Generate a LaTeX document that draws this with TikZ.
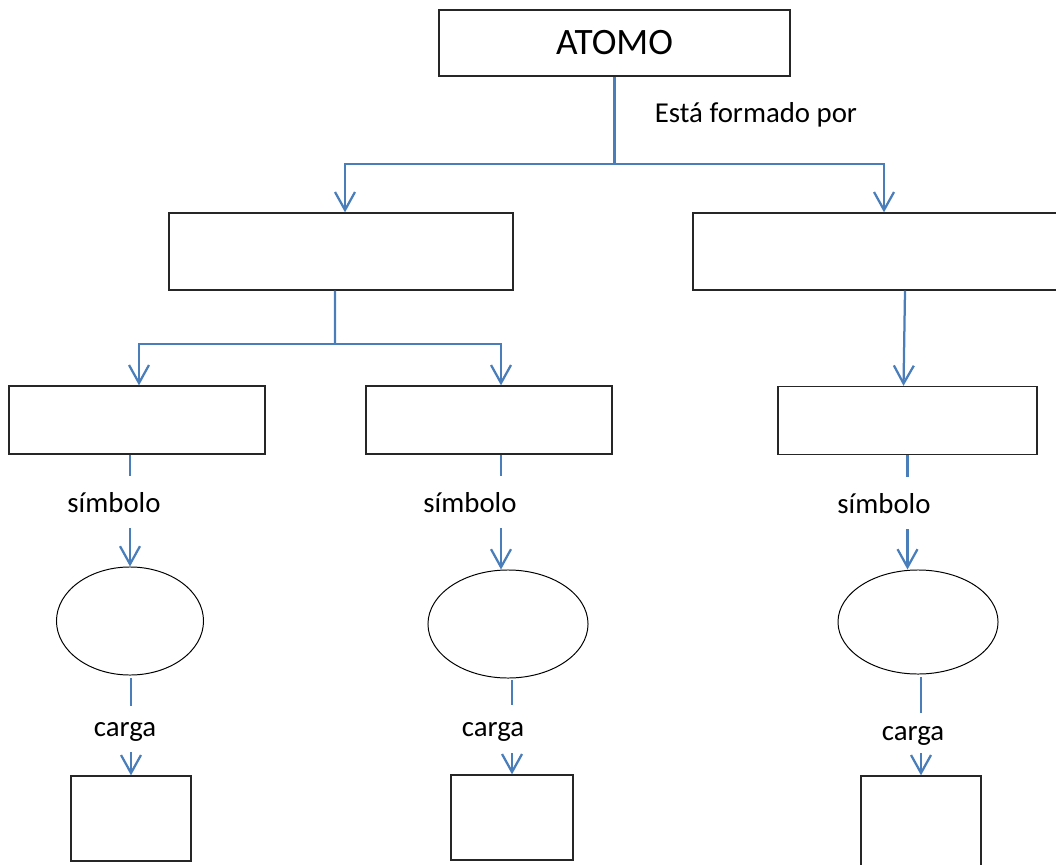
\documentclass[tikz,border=0pt]{standalone}
\usepackage{fontspec}
\setmainfont{Carlito}
\usetikzlibrary{arrows.meta,shapes.geometric}

\definecolor{linkblue}{HTML}{4A7EBB}

\begin{document}
\begin{tikzpicture}[x=0.025cm, y=-0.025cm,
            box/.style={draw=black!85, line width=0.9pt, inner sep=0pt},
            oval/.style={draw, ellipse, line width=0.7pt, inner sep=0pt},
            lbl/.style={inner sep=0pt, text depth=0pt, font=\fontsize{20.5}{24}\selectfont},
            link/.style={draw=linkblue, line width=1.6pt},
            tip/.style={-{Straight Barb[length=12.8pt, width=14.2pt]}}]
            \path[use as bounding box, clip] (0,0) rectangle (1056,865);

            \node (atomo) [box, minimum width=8.775cm, minimum height=1.65cm,
                           font=\fontsize{26.5}{30}\selectfont] at (614.5,43) {ATOMO};
            \node (formado) [lbl] at (756,112) {Está formado por};

            \node (partA) [box, minimum width=8.6cm,  minimum height=1.925cm] at (341,251.5) {};
            \node (partB) [box, minimum width=9.55cm, minimum height=1.925cm] at (884,251.5) {};

            \node (subA) [box, minimum width=6.4cm,   minimum height=1.7cm] at (137,420) {};
            \node (subB) [box, minimum width=6.15cm,  minimum height=1.7cm] at (489,420) {};
            \node (subC) [box, minimum width=6.475cm, minimum height=1.7cm] at (907.5,420.5) {};

            \node (symA) [lbl, minimum height=1.275cm] at (114,502) {símbolo};
            \node (symB) [lbl, minimum height=1.275cm] at (470,502) {símbolo};
            \node (symC) [lbl, minimum height=1.3cm]   at (884,503) {símbolo};

            \node (ellA) [oval, minimum width=3.675cm, minimum height=2.7cm] at (130,621) {};
            \node (ellB) [oval, minimum width=4cm,     minimum height=2.7cm] at (508,624) {};
            \node (ellC) [oval, minimum width=4cm,     minimum height=2.6cm] at (918,622) {};

            \node (chgA) [lbl, minimum height=1.15cm] at (125,729) {carga};
            \node (chgB) [lbl, minimum height=1.2cm]  at (493,729) {carga};
            \node (chgC) [lbl, minimum height=1cm]    at (913,733) {carga};

            \node (valA) [box, minimum width=3cm,    minimum height=2.125cm] at (131,818.5) {};
            \node (valB) [box, minimum width=3.05cm, minimum height=2.125cm] at (512,817.5) {};
            \node (valC) [box, minimum width=3cm,    minimum height=2.5cm]   at (921,826) {};

            \coordinate (split)  at (atomo.south |- 0,164);
            \coordinate (split2) at (335,344);
            \coordinate (topB)   at ([xshift=0.3cm]subB.south);

            \draw[link] (atomo.south) -- (split);
            \draw[link, tip] (split) -| ([xshift=0.1cm]partA.north);
            \draw[link, tip] (split) -| (partB.north);

            \draw[link] ([xshift=-0.15cm]partA.south) -- (split2);
            \draw[link, tip] (split2) -| ([xshift=0.05cm]subA.north);
            \draw[link, tip] (split2) -| ([xshift=0.3cm]subB.north);
            \draw[link, tip] ([xshift=0.525cm]partB.south) -- ([xshift=-0.1cm]subC.north);

            \draw[link] (ellA.north |- subA.south) -- (ellA.north |- symA.north);
            \draw[link, tip] (ellA.north |- symA.south) -- (ellA.north);
            \draw[link] (topB) -- (topB |- symB.north);
            \draw[link, tip] (topB |- symB.south) -- (topB |- ellB.north);
            \draw[link] (subC.south) -- (subC.south |- symC.north);
            \draw[link, tip] (subC.south |- symC.south) -- (subC.south |- ellC.north);

            \draw[link, shorten <=2pt] (valA.north |- ellA.south) -- (valA.north |- chgA.north);
            \draw[link, tip] (valA.north |- chgA.south) -- (valA.north);
            \draw[link, shorten <=1pt] (valB.north |- ellB.south) -- (valB.north |- chgB.north);
            \draw[link, tip] (valB.north |- chgB.south) -- (valB.north);
            \draw[link, shorten <=2pt] (valC.north |- ellC.south) -- (valC.north |- chgC.north);
            \draw[link, tip] (valC.north |- chgC.south) -- (valC.north);
        \end{tikzpicture}
\end{document}
